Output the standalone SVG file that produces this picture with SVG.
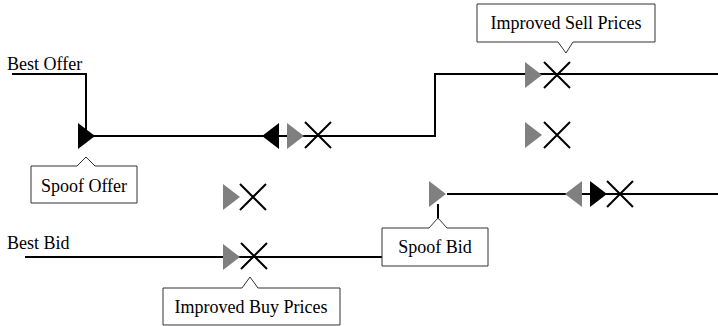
<svg xmlns="http://www.w3.org/2000/svg" width="718" height="326" viewBox="0 0 718 326">
<style>
.ln{fill:none;stroke:#000;stroke-width:2}
.x{stroke:#000;stroke-width:2;fill:none}
.g{fill:#808080}
.b{fill:#000}
.co{fill:#fff;stroke:#333;stroke-width:1}
text{font-family:"Liberation Serif","Times New Roman",serif;font-size:18px;fill:#000}
.c{text-anchor:middle}
</style>
<defs>
<polygon id="tr" points="0,-13 17,0 0,13"/>
<polygon id="tl" points="0,0 17,-13 17,13"/>
<path id="xx" d="M-13,-13 L13,13 M-13,13 L13,-13"/>
</defs>
<g id="connectors">
<path class="ln" d="M12,74 H86 V136 H435 V74 H718"/>
<path class="ln" d="M25,257 H382"/>
<path class="ln" d="M447,194 H718"/>
<path class="ln" d="M438,204 V219"/>
</g>
<g id="label-best-offer"><text x="7" y="70">Best Offer</text></g>
<g id="label-best-bid"><text x="7" y="249">Best Bid</text></g>
<g id="spoof-offer-marker"><use href="#tr" class="b" x="78" y="136"/></g>
<g id="offer-cancel-group">
<use href="#tl" class="b" x="262" y="136"/>
<use href="#tr" class="g" x="287" y="136"/>
<use href="#xx" class="x" x="318" y="135"/>
</g>
<g id="sell-improved">
<use href="#tr" class="g" x="525" y="75"/>
<use href="#xx" class="x" x="557" y="75"/>
</g>
<g id="sell-mid">
<use href="#tr" class="g" x="525" y="135"/>
<use href="#xx" class="x" x="557" y="135"/>
</g>
<g id="left-mid">
<use href="#tr" class="g" x="223" y="197"/>
<use href="#xx" class="x" x="253" y="197"/>
</g>
<g id="buy-improved">
<use href="#tr" class="g" x="223" y="257"/>
<use href="#xx" class="x" x="254" y="256"/>
</g>
<g id="spoof-bid-marker"><use href="#tr" class="g" x="429" y="194"/></g>
<g id="bid-cancel-group">
<use href="#tl" class="g" x="565" y="194"/>
<use href="#tr" class="b" x="590" y="194"/>
<use href="#xx" class="x" x="620" y="194"/>
</g>
<g id="callout-spoof-offer">
<path class="co" d="M31,166 H77 L86,157 L95,166 H137 V203 H31 Z"/>
<text class="c" x="84" y="192">Spoof Offer</text>
</g>
<g id="callout-spoof-bid">
<path class="co" d="M382,228 H429 L438,218 L447,228 H488 V266 H382 Z"/>
<text class="c" x="435" y="253">Spoof Bid</text>
</g>
<g id="callout-improved-buy">
<path class="co" d="M163,288 H242 L250,277 L258,288 H340 V325 H163 Z"/>
<text class="c" x="251" y="313">Improved Buy Prices</text>
</g>
<g id="callout-improved-sell">
<path class="co" d="M477,4 H655 V42 H573 L566,53 L558,42 H477 Z"/>
<text class="c" x="566" y="29">Improved Sell Prices</text>
</g>
</svg>
